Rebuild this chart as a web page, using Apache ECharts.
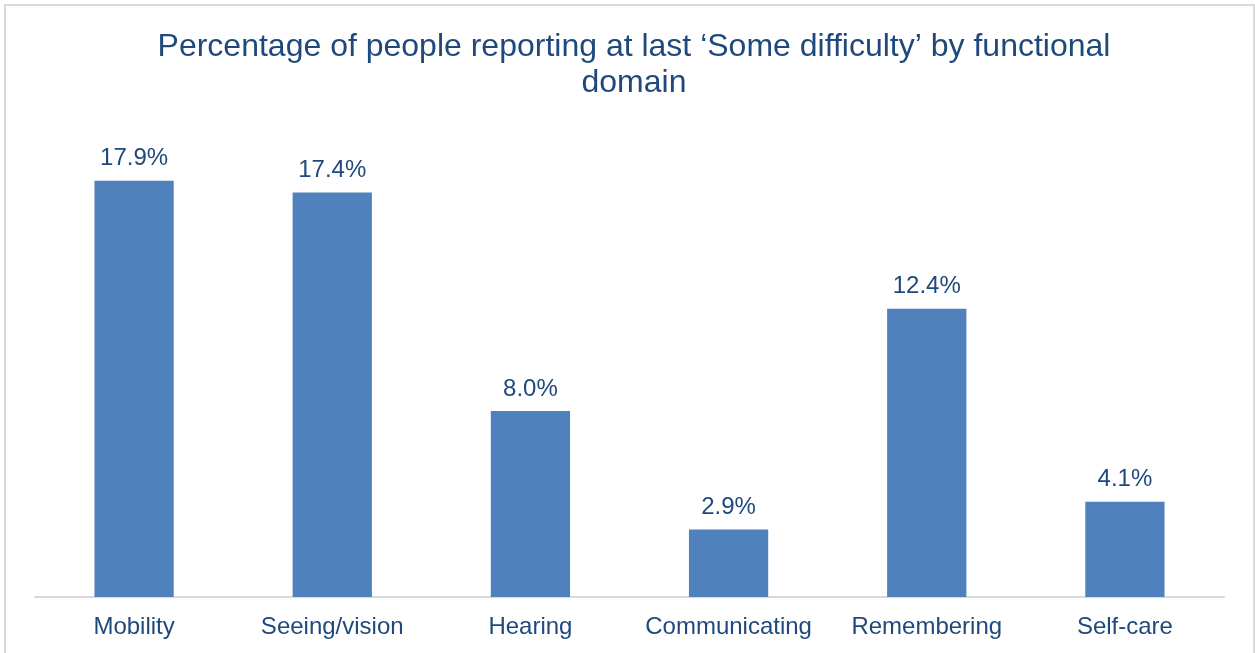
<!DOCTYPE html>
<html>
<head>
<meta charset="utf-8">
<script src="https://cdn.jsdelivr.net/npm/echarts@6/dist/echarts.min.js"></script>
<style>
  html, body { margin: 0; padding: 0; background: #ffffff; }
  #chart { width: 1255px; height: 653px; }
</style>
</head>
<body>
<div id="chart"></div>
<script>
// Functional domains and share of people reporting at least some difficulty (%)
const categories = ['Mobility', 'Seeing/vision', 'Hearing', 'Communicating', 'Remembering', 'Self-care'];
const values = [17.9, 17.4, 8.0, 2.9, 12.4, 4.1];

const textColor = '#1F497D';
const barColor = '#4F81BD';
const font = 'Liberation Sans, Arial, sans-serif';

const chart = echarts.init(document.getElementById('chart'), null, { renderer: 'canvas' });
chart.setOption({
  animation: false,
  backgroundColor: '#ffffff',
  graphic: [{
    type: 'rect',
    shape: { x: 5, y: 5, width: 1249, height: 660 },
    style: { fill: 'none', stroke: '#d9d9d9', lineWidth: 2 },
    silent: true
  }],
  title: {
    text: 'Percentage of people reporting at last \u2018Some difficulty\u2019 by functional\ndomain',
    left: 629,
    textAlign: 'center',
    top: 24,
    textStyle: {
      color: textColor,
      fontFamily: font,
      fontWeight: 'normal',
      fontSize: 32,
      lineHeight: 36
    }
  },
  grid: { left: 35, right: 31, top: 132, bottom: 56, containLabel: false },
  xAxis: {
    type: 'category',
    data: categories,
    axisLine: { lineStyle: { color: '#d9d9d9', width: 2 } },
    axisTick: { show: false },
    axisLabel: {
      color: textColor,
      fontFamily: font,
      fontSize: 24,
      margin: 18,
      interval: 0
    }
  },
  yAxis: {
    type: 'value',
    min: 0,
    max: 20,
    show: false,
    splitLine: { show: false }
  },
  series: [{
    type: 'bar',
    data: values,
    barWidth: '40%',
    itemStyle: { color: barColor },
    label: {
      show: true,
      position: 'top',
      distance: 10,
      color: textColor,
      fontFamily: font,
      fontSize: 24,
      formatter: p => p.value.toFixed(1) + '%'
    }
  }]
});
</script>
</body>
</html>
